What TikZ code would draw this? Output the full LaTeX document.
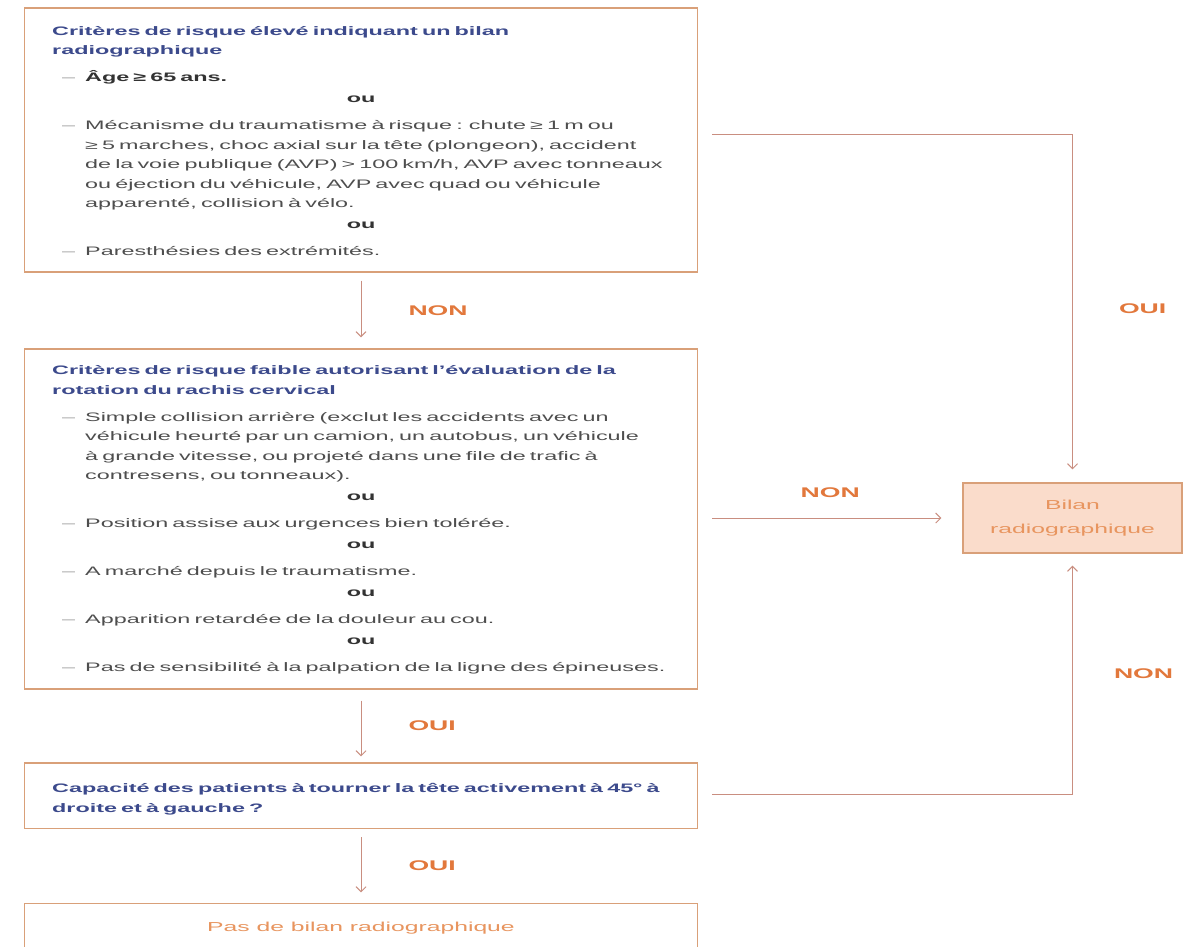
\documentclass[tikz,border=0pt]{standalone}
\usepackage{fontspec}
\setmainfont{Liberation Sans}[FakeStretch=1.9]
\usepackage{tikz}
\usetikzlibrary{arrows.meta}
\definecolor{boxline}{HTML}{D9A079}
\definecolor{connline}{HTML}{C98E80}
\definecolor{lblorange}{HTML}{E2783C}
\definecolor{titleblue}{HTML}{3C4A8C}
\definecolor{bodygray}{HTML}{4E4E4E}
\definecolor{dashgray}{HTML}{A0A0A0}
\definecolor{bilanfill}{HTML}{FADCCB}
\definecolor{bilantext}{HTML}{E8955F}
\newcommand{\crtitle}[1]{\noindent\textcolor{titleblue}{\bfseries #1}\par\vspace{7.5pt}}
\newcommand{\critem}[1]{\hangindent=33pt\hangafter=1\noindent\makebox[33pt][l]{\hspace{10pt}\textcolor{dashgray}{\textendash}}#1\par}
\newcommand{\crou}{\vspace{1pt}{\centering\textcolor{black!80}{\bfseries ou}\par}\vspace{8pt}}
\begin{document}
\begin{tikzpicture}[x=1pt,y=-1pt,
    critbox/.style={draw=boxline, line width=1.2pt, minimum width=673pt, inner sep=0pt},
    crtext/.style={anchor=base west, inner sep=0pt, text width=618pt, text=bodygray, font=\fontsize{12.3}{19.5}\selectfont},
    conn/.style={draw=connline, line width=1pt, -{Straight Barb[length=5pt,width=10pt]}},
    lbl/.style={inner sep=0pt, text=lblorange, font=\fontsize{14}{16}\selectfont\bfseries}]
    \useasboundingbox (0,0) rectangle (1191,946); \clip (0,0) rectangle (1191,946);
    \fill[white] (0,0) rectangle (1191,946);

    \node[critbox, minimum height=264pt] (box1) at (361,140) {};
    \node[critbox, minimum height=340pt] (box2) at (361,519) {};
    \node[critbox, minimum height=65.5pt] (box3) at (361,795.75) {};
    \node[critbox, minimum height=80pt] (box4) at (361,943.5) {};
    \node[draw=boxline, line width=1.2pt, fill=bilanfill, minimum width=219pt, minimum height=70pt, inner sep=0pt, align=center, text=bilantext, font=\fontsize{13}{24}\selectfont] (bilan) at (1072.5,518) {Bilan\\radiographique};

    \node[crtext] (text1) at (52,35) {\raggedright\parskip=0pt\parindent=0pt
        \crtitle{Critères de risque élevé indiquant un bilan\newline radiographique}
        \critem{\textcolor{black!80}{\bfseries Âge ≥ 65 ans.}}
        \crou
        \critem{Mécanisme du traumatisme à risque : chute ≥ 1 m ou\newline ≥ 5 marches, choc axial sur la tête (plongeon), accident\newline de la voie publique (AVP) > 100 km/h, AVP avec tonneaux\newline ou éjection du véhicule, AVP avec quad ou véhicule\newline apparenté, collision à vélo.}
        \crou
        \critem{Paresthésies des extrémités.}};
    \node[crtext] (text2) at (52,374.7) {\raggedright\parskip=0pt\parindent=0pt
        \crtitle{Critères de risque faible autorisant l'évaluation de la\newline rotation du rachis cervical}
        \critem{Simple collision arrière (exclut les accidents avec un\newline véhicule heurté par un camion, un autobus, un véhicule\newline à grande vitesse, ou projeté dans une file de trafic à\newline contresens, ou tonneaux).}
        \crou
        \critem{Position assise aux urgences bien tolérée.}
        \crou
        \critem{A marché depuis le traumatisme.}
        \crou
        \critem{Apparition retardée de la douleur au cou.}
        \crou
        \critem{Pas de sensibilité à la palpation de la ligne des épineuses.}};
    \node[crtext, font=\fontsize{12.3}{20}\selectfont] (text3) at (52,792) {\raggedright\textcolor{titleblue}{\bfseries Capacité des patients à tourner la tête activement à 45° à\newline droite et à gauche ?}};
    \node[text=bilantext, inner sep=0pt, anchor=base, font=\fontsize{13}{16}\selectfont] (text4) at (361,931) {Pas de bilan radiographique};

    \coordinate (j1) at (1072.5,134); \coordinate (j3) at (1072.5,794);
    \draw[conn, shorten <=8pt, shorten >=11pt] (box1.south) -- node[lbl, right=47pt] {NON} (box2.north);
    \draw[conn, shorten <=11pt, shorten >=6pt] (box2.south) -- node[lbl, right=47pt] {OUI} (box3.north);
    \draw[conn, shorten <=8pt, shorten >=10.5pt] (box3.south) -- node[lbl, right=47pt] {OUI} (box4.north);
    \draw[conn, shorten <=14pt, shorten >=13pt] (box1.east |- j1) -- (j1) -- node[lbl, right=46pt] {OUI} (bilan.north);
    \draw[conn, shorten <=14pt, shorten >=21pt] (box2.east |- bilan.west) -- node[lbl, above=20pt] {NON} (bilan.west);
    \draw[conn, shorten <=14pt, shorten >=12pt] (box3.east |- j3) -- (j3) -- node[lbl, right=41pt] {NON} (bilan.south);
\end{tikzpicture}
\end{document}
